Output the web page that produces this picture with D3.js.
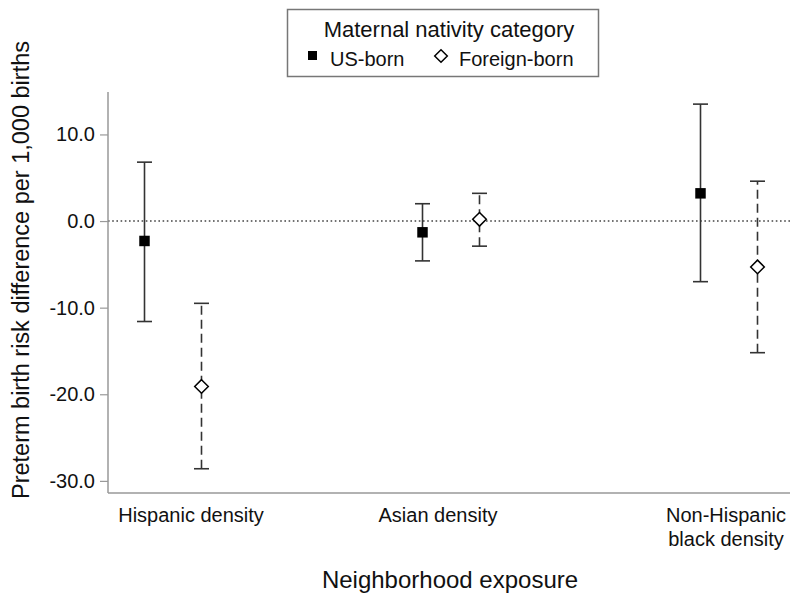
<!DOCTYPE html>
<html>
<head>
<meta charset="utf-8">
<script src="https://cdn.jsdelivr.net/npm/d3@7"></script>
<style>
  html, body { margin: 0; padding: 0; background: #fff; }
  svg { display: block; font-family: "Liberation Sans", Arial, sans-serif; }
</style>
</head>
<body>
<svg id="chart" width="800" height="600"></svg>
<script>
// ---- Data ----
const categories = ["Hispanic density", "Asian density", "Non-Hispanic black density"];
const categoryLines = [["Hispanic density"], ["Asian density"], ["Non-Hispanic", "black density"]];
const seriesNames = ["US-born", "Foreign-born"];
const usEstimate = [-2.3, -1.3, 3.2];
const usLower = [-11.6, -4.6, -7.0];
const usUpper = [6.8, 2.0, 13.5];
const fbEstimate = [-19.1, 0.2, -5.3];
const fbLower = [-28.6, -2.9, -15.2];
const fbUpper = [-9.5, 3.2, 4.6];
const yTicks = [10, 0, -10, -20, -30];
const yDomain = [-31.4, 14.9];

// ---- Layout ----
const svg = d3.select("#chart");
const plotLeft = 108, plotRight = 790, plotTop = 92, plotBottom = 493;
const groupOffset = 28.5;
const labelDx = [18, -13, -3];
const axisColor = "#999";
const barColor = "#333";

const x = d3.scalePoint().domain(categories).range([173, 729]);
const y = d3.scaleLinear().domain(yDomain).range([plotBottom, plotTop]);
const fmt = d3.formatLocale({decimal: ".", thousands: ",", grouping: [3], currency: ["", ""], minus: "-"}).format(".1f");

const rows = [];
categories.forEach((c, i) => {
  rows.push({cat: c, series: seriesNames[0], est: usEstimate[i], lo: usLower[i], hi: usUpper[i], dx: -groupOffset});
  rows.push({cat: c, series: seriesNames[1], est: fbEstimate[i], lo: fbLower[i], hi: fbUpper[i], dx: groupOffset});
});

// zero reference line
svg.append("line")
  .attr("x1", plotLeft).attr("x2", plotRight)
  .attr("y1", y(0)).attr("y2", y(0))
  .attr("stroke", "#444").attr("stroke-width", 1.5)
  .attr("stroke-dasharray", "1.6,2.6");

// y axis
const yAxis = d3.axisLeft(y).tickValues(yTicks).tickSize(8).tickPadding(5).tickFormat(fmt);
const yg = svg.append("g").attr("transform", `translate(${plotLeft},0)`).call(yAxis);
yg.select(".domain").attr("stroke", axisColor).attr("stroke-width", 1.5)
  .attr("d", `M0,${plotTop}V${plotBottom}`);
yg.selectAll(".tick line").attr("stroke", axisColor).attr("stroke-width", 1.2);
yg.selectAll(".tick text").attr("font-size", 20).attr("fill", "#111")
  .attr("font-family", "Liberation Sans, Arial, sans-serif");

// x axis line
svg.append("line")
  .attr("x1", plotLeft).attr("x2", plotRight)
  .attr("y1", plotBottom).attr("y2", plotBottom)
  .attr("stroke", axisColor).attr("stroke-width", 1.5);

// category labels
categories.forEach((c, i) => {
  const t = svg.append("text")
    .attr("x", x(c) + labelDx[i]).attr("y", 522)
    .attr("text-anchor", "middle").attr("font-size", 20).attr("fill", "#111");
  categoryLines[i].forEach((line, j) => {
    t.append("tspan").attr("x", x(c) + labelDx[i]).attr("dy", j === 0 ? 0 : 24).text(line);
  });
});

// axis titles
svg.append("text")
  .attr("x", 450).attr("y", 588)
  .attr("text-anchor", "middle").attr("font-size", 24).attr("fill", "#111")
  .text("Neighborhood exposure");
svg.append("text")
  .attr("transform", "translate(29,270) rotate(-90)")
  .attr("text-anchor", "middle").attr("font-size", 23.5).attr("fill", "#111")
  .text("Preterm birth risk difference per 1,000 births");

// error bars
const bars = svg.append("g").selectAll("g").data(rows).join("g");
bars.append("line")
  .attr("x1", d => x(d.cat) + d.dx).attr("x2", d => x(d.cat) + d.dx)
  .attr("y1", d => y(d.lo)).attr("y2", d => y(d.hi))
  .attr("stroke", barColor).attr("stroke-width", 1.6)
  .attr("stroke-dasharray", d => d.series === "Foreign-born" ? "9,5" : null);
["lo", "hi"].forEach(k => {
  bars.append("line")
    .attr("x1", d => x(d.cat) + d.dx - 7.5).attr("x2", d => x(d.cat) + d.dx + 7.5)
    .attr("y1", d => y(d[k])).attr("y2", d => y(d[k]))
    .attr("stroke", barColor).attr("stroke-width", 1.6);
});

const squareSym = d3.symbol().type(d3.symbolSquare).size(110);
const diamondPath = (r) => `M0,${-r}L${r},0L0,${r}L${-r},0Z`;

bars.append("path")
  .attr("transform", d => `translate(${x(d.cat) + d.dx},${y(d.est)})`)
  .attr("d", d => d.series === "US-born" ? squareSym() : diamondPath(6.8))
  .attr("fill", d => d.series === "US-born" ? "#000" : "#fff")
  .attr("stroke", "#000")
  .attr("stroke-width", d => d.series === "US-born" ? 0 : 1.5);

// legend
const lg = svg.append("g");
lg.append("rect").attr("x", 287.5).attr("y", 9.5).attr("width", 311).attr("height", 67)
  .attr("fill", "#fff").attr("stroke", "#777").attr("stroke-width", 1.5);
lg.append("text").attr("x", 449).attr("y", 36.5).attr("text-anchor", "middle")
  .attr("font-size", 22).attr("fill", "#111").text("Maternal nativity category");
lg.append("path").attr("transform", "translate(312.5,55.5)")
  .attr("d", d3.symbol().type(d3.symbolSquare).size(81)()).attr("fill", "#000");
lg.append("text").attr("x", 330).attr("y", 66).attr("font-size", 20).attr("fill", "#111").text(seriesNames[0]);
lg.append("path").attr("transform", "translate(441,56)")
  .attr("d", diamondPath(6.3)).attr("fill", "#fff").attr("stroke", "#000").attr("stroke-width", 1.5);
lg.append("text").attr("x", 459).attr("y", 66).attr("font-size", 20).attr("fill", "#111").text(seriesNames[1]);
</script>
</body>
</html>
